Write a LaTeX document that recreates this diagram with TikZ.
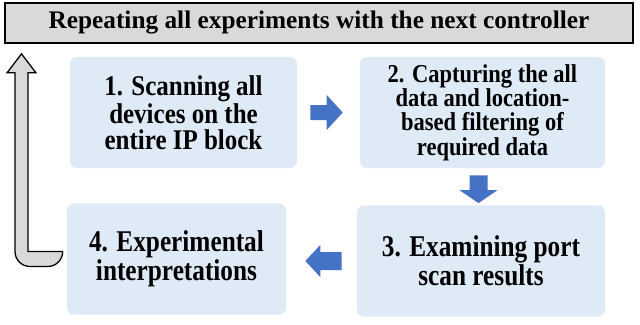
\documentclass[tikz,border=0pt]{standalone}
\usepackage{fontspec}
\setmainfont{Liberation Serif}
\newfontfamily\narrowfont[FakeStretch=0.84]{Liberation Serif}
\newfontfamily\halfnarrowfont[FakeStretch=0.875]{Liberation Serif}
\usetikzlibrary{positioning,arrows.meta,calc}
\definecolor{stepfill}{RGB}{222,234,246}
\definecolor{flowblue}{RGB}{68,114,196}
\definecolor{bargray}{RGB}{217,217,217}
\tikzset{
  stepbox/.style={fill=stepfill,rounded corners=0.18cm,align=center,font=\bfseries,minimum height=2.78cm,inner sep=0pt},
  flowarrow/.style={fill=flowblue},
  returnarrow/.style={fill=bargray,draw=black,line width=0.9pt,line join=miter}
}
\begin{document}
\begin{tikzpicture}[x=0.025cm,y=-0.025cm]
\useasboundingbox (0,0) rectangle (640,324);
% banner on top
\node[fill=bargray,draw=black,line width=1.2pt,minimum width=15.7cm,minimum height=1cm,inner sep=0pt,
      font=\fontsize{18}{20}\selectfont\bfseries] (repeat) at (319,23) {Repeating all experiments with the next controller};
% the four steps
\node[stepbox,minimum width=5.675cm,font=\halfnarrowfont\fontsize{20.3}{18.5}\selectfont\bfseries] (scan) at (183.5,112.5)
  {1. Scanning all\\devices on the\\entire IP block};
\node[stepbox,minimum width=6.125cm,font=\halfnarrowfont\fontsize{18.3}{16.7}\selectfont\bfseries] (capture) at (482.5,112.5)
  {2. Capturing the all\\data and location-\\based filtering of\\required data};
\node[stepbox,minimum width=6.2cm,font=\narrowfont\fontsize{21.4}{15.8}\selectfont\bfseries] (examine) at (481,261)
  {3. Examining port\\scan results};
\node[stepbox,minimum width=5.475cm,font=\narrowfont\fontsize{21.4}{15.8}\selectfont\bfseries] (interpret) at (176.5,259)
  {4. Experimental\\interpretations};
% block arrows between steps
\coordinate (a12) at ($(scan.east)+(13,0)$);
\coordinate (t12) at ($(capture.west)+(-17,0)$);
\coordinate (a23) at ($(capture.south)+(-4,7)$);
\coordinate (t23) at ($(a23 |- examine.north)+(0,-2)$);
\coordinate (a34) at ($(examine.west)+(-15,0)$);
\coordinate (t34) at ($(a34 -| interpret.east)+(19,0)$);
\fill[flowarrow] ($(a12)+(0,-7.5)$) -| ($(t12)+(-16,-17.5)$) -- (t12) -- ($(t12)+(-16,17.5)$) |- ($(a12)+(0,7.5)$) -- cycle;
\fill[flowarrow] ($(a23)+(-9,0)$) |- ($(t23)+(-19,-13)$) -- (t23) -- ($(t23)+(19,-13)$) -| ($(a23)+(9,0)$) -- cycle;
\fill[flowarrow] ($(a34)+(0,-9)$) -| ($(t34)+(15,-16)$) -- (t34) -- ($(t34)+(15,16)$) |- ($(a34)+(0,9)$) -- cycle;
% back to the start with the next controller
\coordinate (tail) at ($(interpret.west)+(-4,0)$);
\coordinate (tip) at ($(repeat.south)+(-297.5,10)$);
\draw[returnarrow] ($(tail)+(0,-7.5)$) -| ($(tip)+(6.5,19)$) -- ($(tip)+(14.5,19)$) -- (tip)
  -- ($(tip)+(-14.5,19)$) -- ($(tip)+(-6.5,19)$)
  [rounded corners=0.375cm] |- ($(tail)+(0,7.5)$) [sharp corners] -- cycle;
\end{tikzpicture}
\end{document}
